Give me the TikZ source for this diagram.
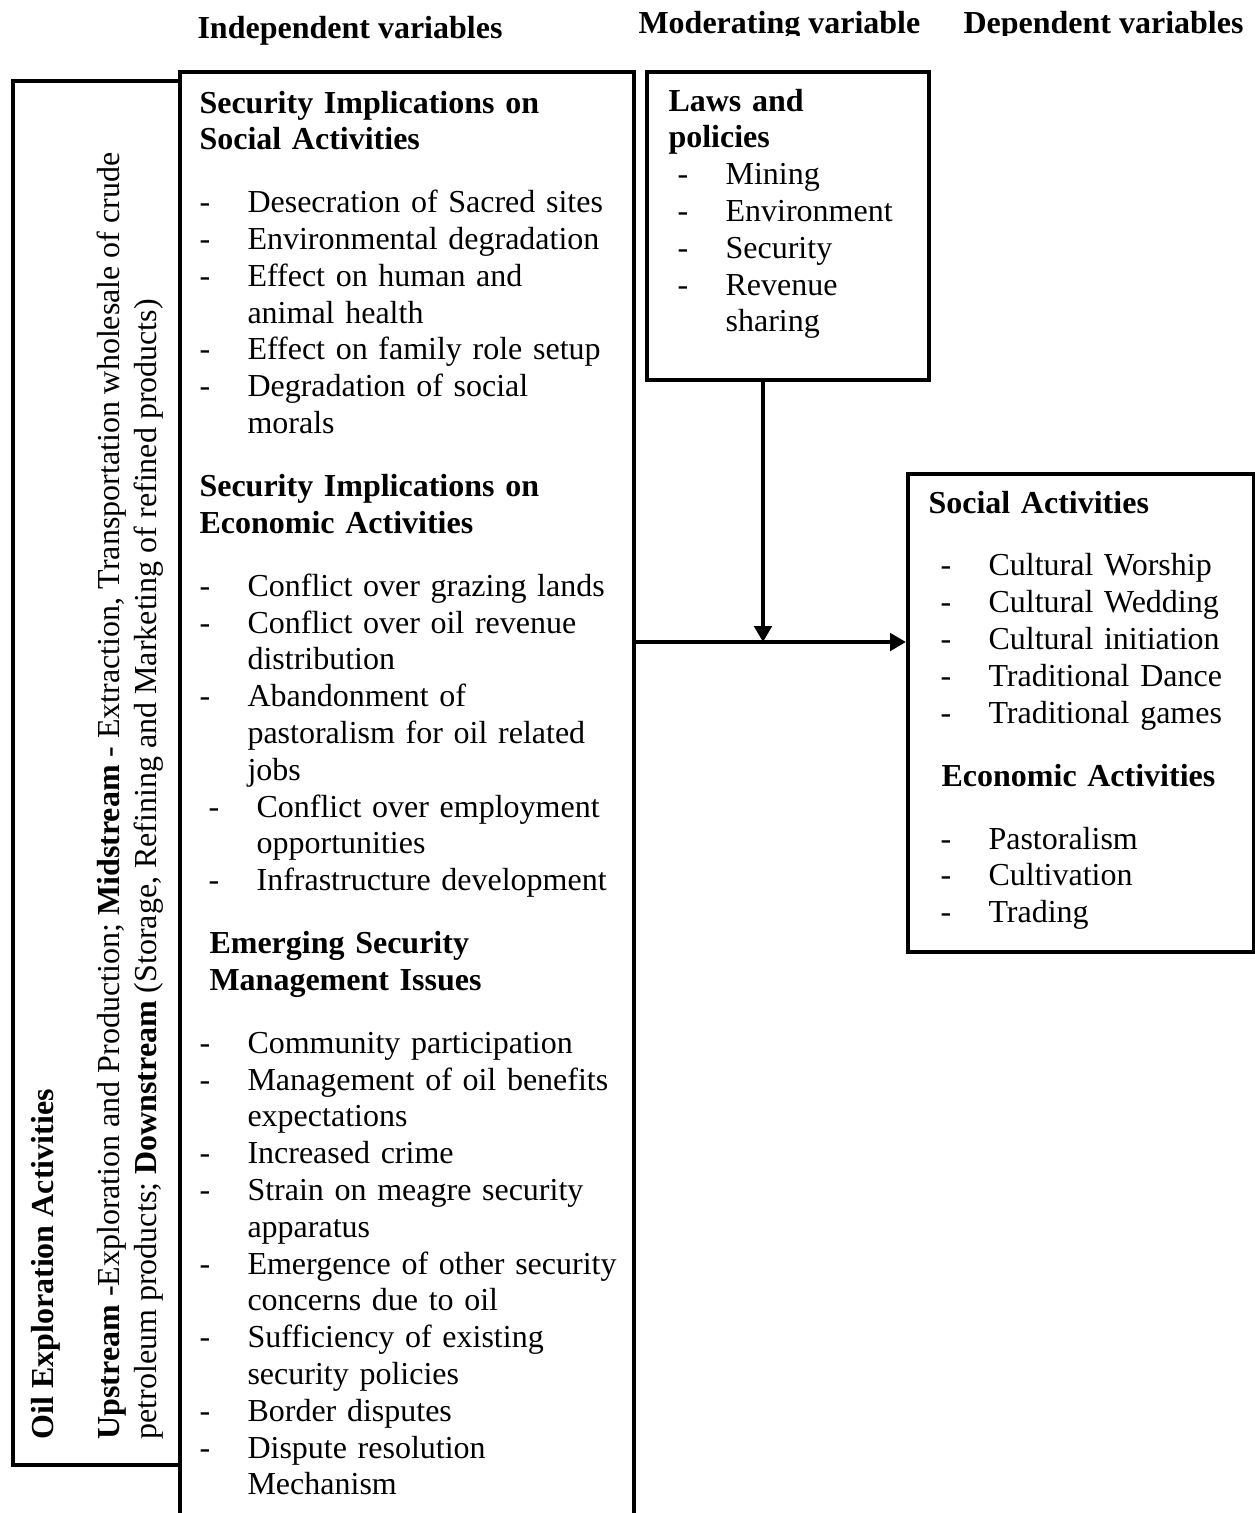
\documentclass[tikz,border=0pt]{standalone}
\usepackage{fontspec}
\setmainfont{Liberation Serif}
\usepackage{tikz}
\usetikzlibrary{arrows.meta,positioning,calc}

\newcommand{\dashitem}[2][0pt]{\par\noindent\hangindent=\dimexpr18pt+#1\relax\hangafter=1\hspace*{#1}\makebox[18pt][l]{-}#2}
\newcommand{\gap}{\par\vspace{9.8pt}}

\begin{document}
\begin{tikzpicture}[x=0.375pt, y=-0.375pt,
  frame/.style={draw, line width=1.5pt, inner sep=0pt, anchor=north west},
  txt/.style={inner sep=0pt, anchor=base west, font=\fontsize{12pt}{13.8pt}\selectfont},
  hdr/.style={txt, font=\fontsize{12pt}{13.8pt}\selectfont\bfseries},
  block/.style={txt, text width=#1, align=left},
  flow/.style={line width=1.5pt, -{Triangle[length=6pt,width=6.5pt]}}
]
\useasboundingbox (0,0) rectangle (1255,1513);
\clip (0,0) rectangle (1255,1513);

% column headings
\node[hdr] (hindep) at (197,38) {Independent variables};
\begin{scope}
\clip (600,0) rectangle (1255,35);
\node[hdr] (hmod) at (638,33) {Moderating variable};
\node[hdr] (hdep) at (963,33) {Dependent variables};
\end{scope}

% boxes
\node[frame, minimum width=62.6pt, minimum height=519pt] (oil) at (11,79) {};
\node[frame, minimum width=170.25pt, minimum height=600pt] (indep) at (178,70) {};
\node[frame, minimum width=105.75pt, minimum height=115.5pt] (laws) at (645,70) {};
\node[frame, minimum width=129.75pt, minimum height=179.25pt] (social) at (906,472) {};

% oil exploration activities (vertical)
\node[hdr, rotate=90] (oiltitle) at (53,1440) {Oil Exploration Activities};
\node[txt, rotate=90] (oilup) at (119,1440) {\textbf{Upstream} -Exploration and Production; \textbf{Midstream} - Extraction, Transportation wholesale of crude};
\node[txt, rotate=90] (oildown) at (156,1440) {petroleum products; \textbf{Downstream} (Storage, Refining and Marketing of refined products)};

% independent variables
\node[block=160pt] (indeptext) at (199,113) {%
\textbf{Security Implications on}\newline\textbf{Social Activities}\gap
\dashitem{Desecration of Sacred sites}
\dashitem{Environmental degradation}
\dashitem{Effect on human and\newline animal health}
\dashitem{Effect on family role setup}
\dashitem{Degradation of social\newline morals}\gap
\noindent\textbf{Security Implications on}\newline\textbf{Economic Activities}\gap
\dashitem{Conflict over grazing lands}
\dashitem{Conflict over oil revenue\newline distribution}
\dashitem{Abandonment of\newline pastoralism for oil related\newline jobs}
\dashitem[3.4pt]{Conflict over employment\newline opportunities}
\dashitem[3.4pt]{Infrastructure development}\gap
\noindent\hspace*{3.75pt}\textbf{Emerging Security}\newline\hspace*{3.75pt}\textbf{Management Issues}\gap
\dashitem{Community participation}
\dashitem{Management of oil benefits\newline expectations}
\dashitem{Increased crime}
\dashitem{Strain on meagre security\newline apparatus}
\dashitem{Emergence of other security\newline concerns due to oil}
\dashitem{Sufficiency of existing\newline security policies}
\dashitem{Border disputes}
\dashitem{Dispute resolution\newline Mechanism}\par};

% moderating variable
\node[block=97pt] (lawstext) at (668,111) {%
\textbf{Laws and}\newline\textbf{policies}
\dashitem[3.4pt]{Mining}
\dashitem[3.4pt]{Environment}
\dashitem[3.4pt]{Security}
\dashitem[3.4pt]{Revenue\newline sharing}\par};

% dependent variables
\node[block=120pt] (socialtext) at (928,513) {%
\textbf{Social Activities}\gap
\dashitem[4.5pt]{Cultural Worship}
\dashitem[4.5pt]{Cultural Wedding}
\dashitem[4.5pt]{Cultural initiation}
\dashitem[4.5pt]{Traditional Dance}
\dashitem[4.5pt]{Traditional games}\gap
\noindent\hspace*{4.9pt}\textbf{Economic Activities}\gap
\dashitem[4.5pt]{Pastoralism}
\dashitem[4.5pt]{Cultivation}
\dashitem[4.5pt]{Trading}\par};

% connectors
\coordinate (join) at (763,642);
\draw[flow] (laws.south -| join) -- (join);
\draw[flow] (indep.east |- join) -- (social.west |- join);
\end{tikzpicture}
\end{document}
